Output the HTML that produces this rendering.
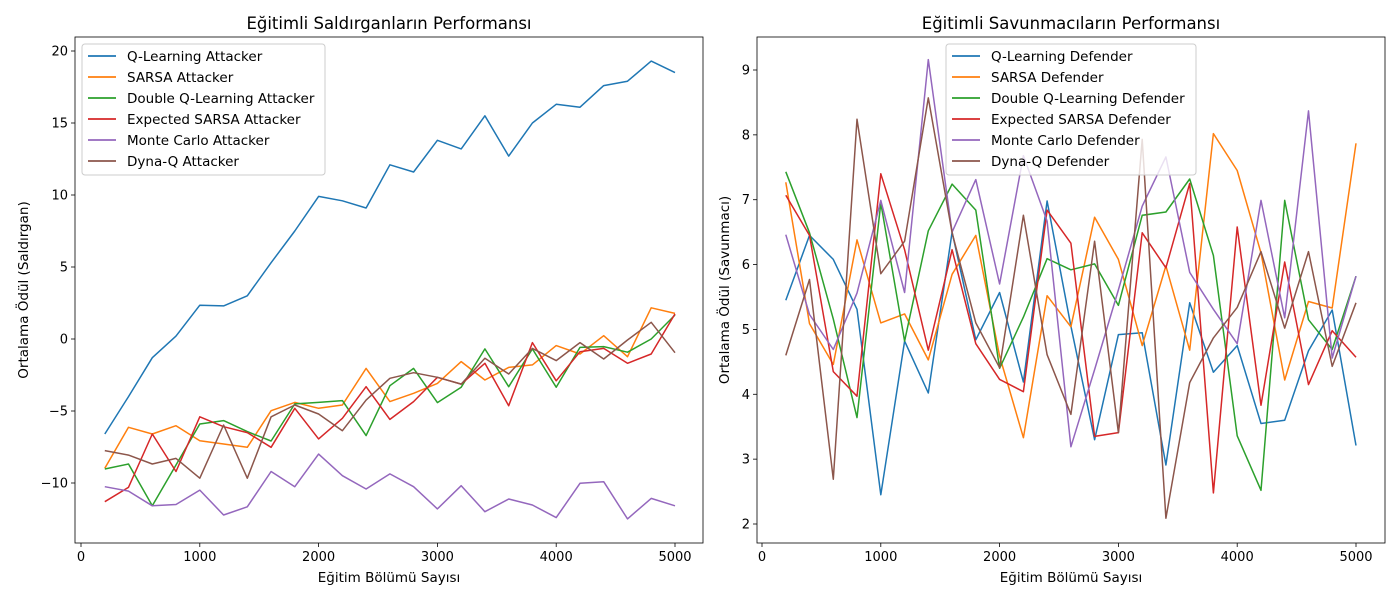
<!DOCTYPE html>
<html><head><meta charset="utf-8"><style>
body{margin:0;background:#fff}
svg text{font-family:"DejaVu Sans","Liberation Sans",sans-serif;fill:#000}
</style></head><body>
<svg id="chart" width="1400" height="600" xmlns="http://www.w3.org/2000/svg"></svg>
<script>
const episodes=[200,400,600,800,1000,1200,1400,1600,1800,2000,2200,2400,2600,2800,3000,3200,3400,3600,3800,4000,4200,4400,4600,4800,5000];
const colors=["#1f77b4","#ff7f0e","#2ca02c","#d62728","#9467bd","#8c564b"];
const attackerNames=["Q-Learning Attacker","SARSA Attacker","Double Q-Learning Attacker","Expected SARSA Attacker","Monte Carlo Attacker","Dyna-Q Attacker"];
const defenderNames=["Q-Learning Defender","SARSA Defender","Double Q-Learning Defender","Expected SARSA Defender","Monte Carlo Defender","Dyna-Q Defender"];
const attQ=[-6.6,-4.0,-1.3,0.2,2.35,2.3,3.0,5.3,7.5,9.9,9.6,9.1,12.1,11.6,13.8,13.2,15.5,12.7,15.0,16.3,16.1,17.6,17.9,19.3,18.5];
const attSarsa=[-8.98,-6.13,-6.6,-6.02,-7.06,-7.29,-7.52,-4.98,-4.4,-4.81,-4.58,-2.04,-4.35,-3.77,-3.08,-1.57,-2.85,-1.97,-1.8,-0.46,-1.04,0.23,-1.23,2.17,1.78];
const attDouble=[-9.03,-8.68,-11.58,-8.75,-5.9,-5.67,-6.43,-7.08,-4.51,-4.4,-4.28,-6.71,-3.24,-2.04,-4.42,-3.35,-0.69,-3.31,-0.69,-3.35,-0.58,-0.53,-0.92,0,1.67];
const attExp=[-11.3,-10.3,-6.6,-9.2,-5.4,-6.09,-6.5,-7.52,-4.81,-6.94,-5.51,-3.31,-5.58,-4.35,-2.66,-3.13,-1.69,-4.63,-0.25,-2.9,-0.88,-0.65,-1.69,-1.04,1.74];
const attMC=[-10.26,-10.56,-11.58,-11.49,-10.49,-12.22,-11.65,-9.2,-10.26,-7.99,-9.49,-10.42,-9.37,-10.26,-11.8,-10.19,-11.99,-11.11,-11.53,-12.4,-10.02,-9.91,-12.49,-11.07,-11.58];
const attDyna=[-7.75,-8.06,-8.68,-8.29,-9.67,-5.97,-9.67,-5.4,-4.58,-5.21,-6.37,-4.24,-2.73,-2.34,-2.66,-3.13,-1.34,-2.43,-0.65,-1.5,-0.25,-1.39,-0.07,1.16,-0.95];
const defQ=[5.45,6.45,6.08,5.31,2.45,4.82,4.02,6.5,4.84,5.57,4.19,6.98,5.05,3.3,4.92,4.95,2.91,5.41,4.34,4.75,3.55,3.6,4.67,5.3,3.21];
const defSarsa=[7.27,5.09,4.46,6.38,5.1,5.24,4.53,5.85,6.45,4.59,3.33,5.52,5.04,6.73,6.08,4.75,5.98,4.68,8.02,7.45,6.18,4.22,5.43,5.33,7.87];
const defDouble=[7.43,6.49,5.16,3.64,6.95,4.82,6.52,7.24,6.84,4.4,5.19,6.09,5.92,6.01,5.37,6.76,6.81,7.32,6.14,3.36,2.52,6.99,5.15,4.69,5.82];
const defExp=[7.07,6.45,4.35,3.97,7.4,6.23,4.68,6.23,4.78,4.23,4.04,6.84,6.33,3.35,3.41,6.49,5.95,7.25,2.48,6.58,3.83,6.04,4.15,4.98,4.57];
const defMC=[6.46,5.23,4.69,5.56,6.99,5.57,9.16,6.5,7.31,5.7,7.68,6.67,3.19,4.38,5.61,6.9,7.66,5.88,5.31,4.78,6.99,5.18,8.37,4.56,5.82];
const defDyna=[4.6,5.77,2.69,8.24,5.86,6.36,8.57,6.49,5.1,4.41,6.76,4.61,3.69,6.36,3.41,7.93,2.09,4.18,4.87,5.34,6.2,5.02,6.2,4.43,5.41];
const xTicks=[0,1000,2000,3000,4000,5000];
const attYTicks=[-10,-5,0,5,10,15,20];
const defYTicks=[2,3,4,5,6,7,8,9];

const NS="http://www.w3.org/2000/svg";
const svg=document.getElementById('chart');
function el(tag,attrs,parent){const e=document.createElementNS(NS,tag);for(const k in attrs)e.setAttribute(k,attrs[k]);(parent||svg).appendChild(e);return e;}

function panel(o){
  const g=el('g',{});
  
  
  const xs=v=>o.x0+(v-o.xmin)/(o.xmax-o.xmin)*(o.x1-o.x0);
  const ys=v=>o.y1-(v-o.ymin)/(o.ymax-o.ymin)*(o.y1-o.y0);
  o.series.forEach((s,i)=>{
    const p=el('polyline',{points:episodes.map((e,j)=>xs(e).toFixed(1)+','+ys(s[j]).toFixed(1)).join(' '),fill:'none',stroke:colors[i],'stroke-width':1.5,'stroke-linejoin':'round'},g);
    
    
  });
  const fr=el('rect',{x:o.bx0,y:o.y0b,width:o.bx1-o.bx0,height:o.y1b-o.y0b,fill:'none',stroke:'#000','stroke-width':0.8},g);
  
  
  xTicks.forEach(t=>{
    const x=xs(t);
    el('line',{x1:x,x2:x,y1:o.y1b,y2:o.y1b+4,stroke:'#000','stroke-width':0.8},g);
    const tx=el('text',{x:x,y:o.y1b+18,'text-anchor':'middle','font-size':13},g);
    tx.textContent=t;
    
    
  });
  o.yTicks.forEach(t=>{
    const y=ys(t);
    el('line',{x1:o.bx0-4,x2:o.bx0,y1:y,y2:y,stroke:'#000','stroke-width':0.8},g);
    const tx=el('text',{x:o.bx0-7,y:y+4.5,'text-anchor':'end','font-size':13},g);
    tx.textContent=t<0?'\u2212'+(-t):t;
    
    
  });
  const ti=el('text',{x:(o.bx0+o.bx1)/2,y:29,'text-anchor':'middle','font-size':16.5},g);
  ti.textContent=o.title;
  
  
  const xl=el('text',{x:(o.bx0+o.bx1)/2,y:582,'text-anchor':'middle','font-size':13.5},g);
  xl.textContent='Eğitim Bölümü Sayısı';
  
  
  const yl=el('text',{x:0,y:0,'text-anchor':'middle','font-size':13.5,transform:'translate('+o.ylx+',290) rotate(-90)'},g);
  yl.textContent=o.ylabel;
  
  
  const lg=el('g',{},g);
  
  
  el('rect',{x:o.lx,y:44,width:o.lw,height:131,rx:3,fill:'rgba(255,255,255,0.8)',stroke:'#ccc','stroke-width':1},lg);
  o.names.forEach((n,i)=>{
    const y=56+i*21;
    const e=el('g',{},lg);
    
    
    el('line',{x1:o.lx+6,x2:o.lx+34,y1:y,y2:y,stroke:colors[i],'stroke-width':1.8},e);
    const t=el('text',{x:o.lx+45,y:y+5,'font-size':13.5},e);
    t.textContent=n;
  });
}
panel({key:'attacker',series:[attQ,attSarsa,attDouble,attExp,attMC,attDyna],names:attackerNames,
  xmin:0,xmax:5000,x0:81,x1:675,ymin:-10,ymax:20,y1:483,y0:51,
  bx0:75,bx1:703,y0b:37,y1b:543,yTicks:attYTicks,title:'Eğitimli Saldırganların Performansı',ylabel:'Ortalama Ödül (Saldırgan)',ylx:28,lx:82,lw:243});
panel({key:'defender',series:[defQ,defSarsa,defDouble,defExp,defMC,defDyna],names:defenderNames,
  xmin:0,xmax:5000,x0:762,x1:1356,ymin:2,ymax:9,y1:524,y0:70,
  bx0:757,bx1:1385,y0b:37,y1b:543,yTicks:defYTicks,title:'Eğitimli Savunmacıların Performansı',ylabel:'Ortalama Ödül (Savunmacı)',ylx:729,lx:946,lw:250});
</script>
</body></html>
